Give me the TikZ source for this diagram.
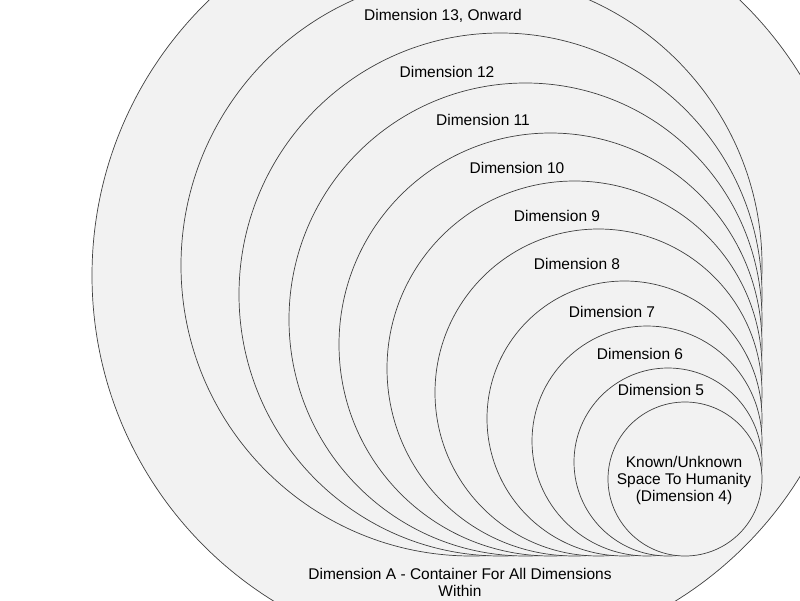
\documentclass[tikz,border=0pt]{standalone}
\usepackage{fontspec}
\setmainfont{Liberation Sans}
\begin{document}
\begin{tikzpicture}[x=1pt,y=-1pt,
  ring/.style={draw=black!75,fill=black!5,line width=0.7pt},
  lab/.style={font=\fontsize{15.5}{17}\selectfont,inner sep=0pt,align=center}]
\useasboundingbox (0,0) rectangle (800,600);
\begin{scope}
\clip (0,0) rectangle (800,600);
\fill[white] (0,0) rectangle (800,600);
\draw[ring] (474.5,275.5) circle[radius=382.5];
\foreach \t/\n in {-25/c13,33/c12,83/c11,133/c10,181/c9,229/c8,281/c7,326/c6,368/c5,402/c4}{
  \pgfmathsetmacro{\r}{(556-\t)/2}
  \draw[ring] ({762-\r},{556-\r}) circle[radius=\r];
}
\end{scope}
\node[lab] (l13) at (443,16) {Dimension 13, Onward};
\node[lab] (l12) at (447,72) {Dimension 12};
\node[lab] (l11) at (483,120) {Dimension 11};
\node[lab] (l10) at (517,168) {Dimension 10};
\node[lab] (l9) at (557,216) {Dimension 9};
\node[lab] (l8) at (577,264) {Dimension 8};
\node[lab] (l7) at (612,312) {Dimension 7};
\node[lab] (l6) at (640,354) {Dimension 6};
\node[lab] (l5) at (661,390) {Dimension 5};
\node[lab] (l4) at (684,480) {Known/Unknown\\Space To Humanity\\(Dimension 4)};
\node[lab] (lA) at (460,582) {Dimension A - Container For All Dimensions\\Within};
\end{tikzpicture}
\end{document}
